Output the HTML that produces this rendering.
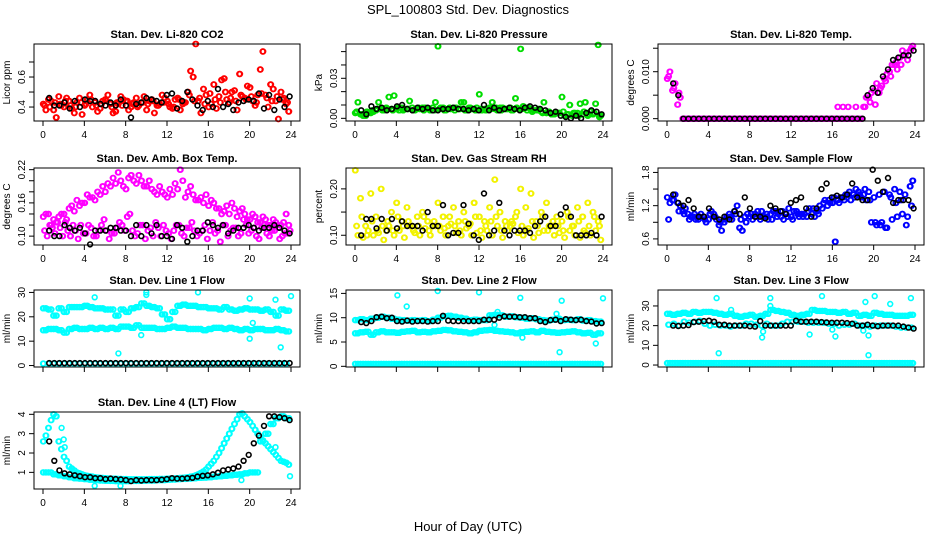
<!DOCTYPE html>
<html><head><meta charset="utf-8"><style>
html,body{margin:0;padding:0;background:#fff;width:936px;height:540px;overflow:hidden}
svg{display:block;font-family:"Liberation Sans",sans-serif}
</style></head><body>
<svg id="chart" width="936" height="540" viewBox="0 0 936 540">
<text x="468" y="14" font-size="13" text-anchor="middle">SPL_100803  Std. Dev. Diagnostics</text>
<text x="468" y="531" font-size="13" text-anchor="middle">Hour of Day (UTC)</text>
</svg>
<script>
// ===== data =====
const xTicks=[0,4,8,12,16,20,24];
const co2RedA=[0.42,0.45,0.38,0.47,0.40,0.44,0.36,0.46,0.41,0.48,0.43,0.39,0.45,0.42,0.37,0.47,0.44,0.40,0.46,0.43,0.38,0.45,0.41,0.48,0.44,0.39,0.46,0.42,0.50,0.60,0.44,0.52,0.40,0.55,0.47,0.59,0.43,0.51,0.62,0.46,0.53,0.41,0.65,0.48,0.55,0.44,0.50,0.42];
const co2RedB=[0.38,0.44,0.33,0.41,0.46,0.39,0.43,0.35,0.45,0.40,0.37,0.44,0.48,0.36,0.42,0.45,0.38,0.43,0.41,0.47,0.44,0.36,0.42,0.46,0.40,0.45,0.38,0.43,0.64,0.82,0.36,0.48,0.42,0.39,0.58,0.45,0.50,0.38,0.47,0.54,0.44,0.48,0.77,0.40,0.52,0.32,0.46,0.37];
const co2RedC=[0.41,0.40,0.43,0.42,0.44,0.41,0.40,0.43,0.42,0.45,0.41,0.42,0.44,0.40,0.43,0.41,0.44,0.42,0.40,0.43,0.42,0.44,0.41,0.43,0.42,0.40,0.45,0.43,0.48,0.44,0.46,0.42,0.49,0.45,0.43,0.50,0.46,0.44,0.48,0.45,0.47,0.43,0.49,0.46,0.44,0.47,0.45,0.43];
const co2Black=[0.46,0.41,0.41,0.43,0.39,0.44,0.40,0.45,0.44,0.44,0.42,0.41,0.43,0.41,0.45,0.41,0.33,0.42,0.43,0.46,0.45,0.44,0.43,0.48,0.49,0.39,0.44,0.50,0.45,0.41,0.38,0.44,0.40,0.52,0.40,0.42,0.38,0.43,0.44,0.45,0.44,0.49,0.39,0.48,0.38,0.45,0.40,0.47];
const presGreenA=[0.004,0.003,0.002,0.004,0.006,0.007,0.008,0.007,0.007,0.008,0.007,0.008,0.007,0.008,0.007,0.008,0.054,0.008,0.007,0.008,0.007,0.012,0.008,0.007,0.018,0.007,0.008,0.007,0.008,0.007,0.008,0.015,0.052,0.008,0.007,0.006,0.005,0.004,0.003,0.004,0.016,0.003,0.002,0.004,0.003,0.002,0.003,0.055];
const presGreenB=[0.012,0.002,0.004,0.005,0.012,0.006,0.016,0.017,0.006,0.007,0.013,0.006,0.007,0.008,0.006,0.012,0.008,0.006,0.007,0.008,0.012,0.006,0.007,0.008,0.006,0.007,0.012,0.006,0.008,0.007,0.006,0.007,0.009,0.008,0.006,0.007,0.012,0.005,0.003,0.004,0.002,0.010,0.004,0.011,0.012,0.005,0.011,0.002];
const presGreenC=[0.005,0.003,0.005,0.006,0.007,0.006,0.007,0.006,0.008,0.006,0.007,0.006,0.008,0.006,0.007,0.006,0.007,0.006,0.008,0.006,0.007,0.006,0.008,0.006,0.007,0.006,0.007,0.008,0.006,0.007,0.006,0.008,0.007,0.006,0.005,0.006,0.004,0.005,0.003,0.004,0.005,0.003,0.004,0.002,0.005,0.003,0.004,0.001];
const presBlack=[0.006,0.003,0.009,0.007,0.008,0.006,0.007,0.009,0.010,0.007,0.006,0.008,0.007,0.008,0.006,0.006,0.007,0.007,0.008,0.007,0.007,0.006,0.007,0.006,0.010,0.006,0.008,0.006,0.007,0.008,0.007,0.006,0.008,0.009,0.008,0.007,0.006,0.004,0.005,0.002,0.001,0.000,0.002,0.000,0.004,0.006,0.005,0.003];
const tempMagA=[0.0085,0.0060,0.0030,0,0,0,0,0,0,0,0,0,0,0,0,0,0,0,0,0,0,0,0,0,0,0,0,0,0,0,0,0,0,0.0025,0.0025,0.0025,0,0,0.0025,0.0045,0.0060,0.0055,0.0085,0.0100,0.0115,0.0130,0.0135,0.0145];
const tempMagB=[0.0100,0.0075,0.0045,0,0,0,0,0,0,0,0,0,0,0,0,0,0,0,0,0,0,0,0,0,0,0,0,0,0,0,0,0,0,0,0,0,0.0025,0,0.0045,0.0055,0.0075,0.0070,0.0095,0.0115,0.0105,0.0145,0.0125,0.0155];
const tempMagC=[0.0090,0.0065,0.0055,0,0,0,0,0,0,0,0,0,0,0,0,0,0,0,0,0,0,0,0,0,0,0,0,0,0,0,0,0,0,0,0,0,0,0,0.0025,0.0035,0.0030,0.0065,0.0080,0.0090,0.0120,0.0115,0.0140,0.0150];
const tempBlack=[0.0075,0.0050,0,0,0,0,0,0,0,0,0,0,0,0,0,0,0,0,0,0,0,0,0,0,0,0,0,0,0,0,0,0,0,0,0,0,0,0,0.0050,0.0065,0.0055,0.0090,0.0105,0.0125,0.0130,0.0135,0.0135,0.0145];
const boxMagA=[0.135,0.14,0.13,0.135,0.14,0.15,0.145,0.155,0.16,0.17,0.165,0.175,0.18,0.19,0.195,0.20,0.185,0.21,0.195,0.20,0.19,0.185,0.175,0.18,0.17,0.175,0.185,0.20,0.18,0.175,0.165,0.16,0.155,0.16,0.15,0.145,0.14,0.15,0.145,0.14,0.13,0.135,0.125,0.13,0.12,0.125,0.12,0.14];
const boxMagB=[0.14,0.12,0.125,0.14,0.13,0.155,0.165,0.16,0.175,0.17,0.18,0.19,0.195,0.205,0.215,0.19,0.205,0.2,0.21,0.19,0.2,0.18,0.19,0.175,0.185,0.195,0.22,0.17,0.19,0.165,0.17,0.175,0.165,0.15,0.14,0.155,0.16,0.135,0.15,0.13,0.14,0.125,0.135,0.12,0.13,0.115,0.125,0.12];
const boxMagC=[0.11,0.12,0.105,0.115,0.125,0.10,0.11,0.12,0.105,0.115,0.10,0.12,0.11,0.105,0.115,0.12,0.135,0.11,0.105,0.12,0.11,0.10,0.115,0.12,0.105,0.11,0.12,0.10,0.115,0.11,0.105,0.12,0.11,0.105,0.09,0.12,0.11,0.115,0.105,0.12,0.11,0.10,0.115,0.105,0.11,0.12,0.10,0.105];
const boxMagD=[0.10,0.115,0.125,0.10,0.11,0.12,0.095,0.105,0.12,0.10,0.11,0.13,0.095,0.105,0.125,0.11,0.14,0.10,0.12,0.095,0.115,0.125,0.10,0.11,0.095,0.12,0.105,0.115,0.125,0.10,0.11,0.095,0.125,0.11,0.12,0.10,0.115,0.10,0.13,0.105,0.115,0.095,0.12,0.10,0.11,0.095,0.105,0.11];
const boxBlack=[0.11,0.10,0.10,0.12,0.115,0.11,0.115,0.105,0.085,0.11,0.11,0.11,0.115,0.115,0.11,0.11,0.10,0.12,0.10,0.12,0.105,0.12,0.10,0.10,0.095,0.12,0.115,0.09,0.10,0.11,0.11,0.125,0.12,0.115,0.12,0.105,0.11,0.115,0.115,0.12,0.115,0.11,0.115,0.115,0.12,0.115,0.11,0.105];
const rhYelA=[0.24,0.18,0.12,0.19,0.14,0.20,0.11,0.15,0.17,0.13,0.16,0.12,0.14,0.15,0.13,0.12,0.17,0.14,0.12,0.16,0.13,0.15,0.12,0.17,0.14,0.13,0.16,0.22,0.15,0.13,0.12,0.14,0.20,0.16,0.19,0.13,0.15,0.17,0.12,0.14,0.13,0.15,0.12,0.16,0.14,0.17,0.15,0.13];
const rhYelB=[0.10,0.095,0.11,0.10,0.105,0.09,0.12,0.10,0.11,0.095,0.12,0.105,0.10,0.115,0.10,0.12,0.11,0.10,0.125,0.105,0.10,0.115,0.10,0.105,0.095,0.11,0.10,0.12,0.095,0.11,0.125,0.105,0.10,0.115,0.095,0.105,0.11,0.12,0.10,0.105,0.095,0.11,0.10,0.095,0.105,0.10,0.11,0.09];
const rhYelC=[0.12,0.14,0.10,0.13,0.11,0.12,0.13,0.11,0.14,0.12,0.13,0.11,0.12,0.14,0.11,0.13,0.12,0.115,0.14,0.12,0.11,0.13,0.125,0.14,0.11,0.12,0.13,0.14,0.11,0.12,0.13,0.15,0.12,0.11,0.13,0.12,0.14,0.11,0.13,0.12,0.11,0.14,0.12,0.13,0.11,0.12,0.14,0.12];
const rhBlack=[0.10,0.135,0.135,0.115,0.135,0.11,0.135,0.115,0.13,0.12,0.12,0.12,0.11,0.15,0.12,0.12,0.165,0.10,0.105,0.105,0.165,0.125,0.10,0.09,0.19,0.10,0.11,0.17,0.11,0.10,0.11,0.11,0.11,0.105,0.12,0.13,0.14,0.12,0.12,0.145,0.16,0.14,0.10,0.10,0.10,0.105,0.10,0.14];
const flowBlueA=[1.35,1.30,1.25,1.10,1.05,1.00,0.95,1.00,0.95,1.05,0.85,0.90,1.05,1.10,0.80,1.00,1.00,1.05,0.95,1.00,1.05,1.10,1.00,1.05,1.00,1.10,1.05,1.00,1.05,1.10,1.15,1.20,1.25,1.30,1.35,1.40,1.40,1.45,1.40,1.45,1.35,1.40,1.45,1.40,1.50,1.45,1.40,1.55];
const flowBlueB=[1.25,1.40,1.20,1.15,1.00,0.95,1.05,0.90,1.10,0.95,0.75,1.00,0.95,1.20,0.75,1.05,0.95,1.10,1.00,0.95,1.10,1.05,0.95,1.15,1.10,1.00,1.05,1.15,1.00,1.20,1.30,1.25,0.55,1.35,1.40,1.30,1.50,1.35,1.30,0.90,0.85,0.90,0.80,0.95,1.00,1.05,1.00,1.65];
const flowBlueC=[0.95,1.30,1.10,1.05,0.95,1.05,1.00,0.95,1.05,1.00,0.90,0.95,1.00,1.05,0.95,0.90,1.05,1.00,1.10,1.05,0.95,1.00,1.10,1.00,0.95,1.05,1.00,1.10,1.15,1.05,1.25,1.30,1.35,1.25,1.30,1.45,1.35,1.40,1.50,1.30,0.90,0.85,0.80,1.35,1.25,1.30,0.85,1.20];
const flowBlack=[1.40,1.25,1.20,1.30,1.15,1.00,1.00,1.15,1.00,0.95,1.00,0.95,1.10,1.05,1.35,1.15,1.00,1.00,0.97,1.20,1.15,1.10,1.05,1.25,1.30,1.35,1.15,1.00,1.15,1.50,1.60,1.35,1.38,1.35,1.40,1.60,1.35,1.30,1.30,1.85,1.65,1.45,1.70,1.25,1.30,1.30,1.30,1.15];
const l1Upper=[23.5,23,20.5,23.5,22,24,24,24,24.5,24,23.5,23.5,23,23,20.5,23,22,23.5,24,25.5,24.5,24,23.5,21,19,22,24.5,25,24.5,24.5,24,24,23.5,23.5,23,24,23,22.5,23,23.5,23,23,22.5,23,22,20.5,23,22.5];
const l1Middle=[14.5,15,15,14.5,13.5,15,15.5,15,15,15.5,15,15.5,15,15.5,15,16,16,15.5,16.5,15.5,15.5,15.5,15,15,15.5,16,15.5,15.5,15,15,15,14.5,15,15.5,15.5,15,15.5,15,14.5,15,14.5,15,15,14.5,14.5,15,14.5,14];
const l1Bottom=[0.8,0.8,0.8,0.8,0.8,0.8,0.8,0.8,0.8,0.8,0.8,0.8,0.8,0.8,0.8,0.8,0.8,0.8,0.8,0.8,0.8,0.8,0.8,0.8,0.8,0.8,0.8,0.8,0.8,0.8,0.8,0.8,0.8,0.8,0.8,0.8,0.8,0.8,0.8,0.8,0.8,0.8,0.8,0.8,0.8,0.8,0.8,0.8];
const l1OutHour=[5,10,10,15,20,22.5,24,9.5,7.3,20,23,20.3];
const l1OutVal=[28,30,29,30,27.5,27,28.5,12.5,5,11,7.5,17.5];
const l1Black=[1,1,1,1,1,1,1,1,1,1,1,1,1,1,1,1,1,1,1,1,1,1,1,1,1,1,1,1,1,1,1,1,1,1,1,1,1,1,1,1,1,1,1,1,1,1,1,1];
const l2Top=[9.5,9.7,9.5,9.8,10,10.2,10,9.8,9.6,9.5,9.4,9.5,9.4,9.5,9.3,9.6,10,10.3,10.4,10.2,10,9.8,9.5,9.6,9.5,9.5,10.5,10.6,10.5,10.2,10.3,10.1,10,9.8,9.9,9.7,9.5,9.4,9.6,9.8,9.5,9.6,9.5,9.7,9.4,9.5,9.3,9.2];
const l2Middle=[6.8,7,7.1,6.5,7,7.2,7,7,6.9,7.1,7.2,7.3,7,7.1,7,7.2,7.3,7.5,7.4,7.2,7.1,7,6.8,7,7.3,7.4,7.5,7.3,7.2,7.1,7,6.8,7,7.1,7.2,7,7.3,7.1,7,6.9,7,7.1,7.2,7,6.8,6.9,6.5,6.8];
const l2Bottom=[0.5,0.5,0.5,0.5,0.5,0.5,0.5,0.5,0.5,0.5,0.5,0.5,0.5,0.5,0.5,0.5,0.5,0.5,0.5,0.5,0.5,0.5,0.5,0.5,0.5,0.5,0.5,0.5,0.5,0.5,0.5,0.5,0.5,0.5,0.5,0.5,0.5,0.5,0.5,0.5,0.5,0.5,0.5,0.5,0.5,0.5,0.5,0.5];
const l2OutHour=[4.1,5,8,12,16,20,24,19.5,19.8,16.2,23.3,13.8,13.5];
const l2OutVal=[14.6,12.3,15.5,15.2,14.1,13.5,14,10.8,2.9,5.9,4.7,11.2,8.5];
const l2Black=[9.1,8.9,9.3,10.1,10.2,9.9,10.0,9.3,9.2,9.4,9.2,9.3,9.3,9.2,9.3,9.3,10.4,9.4,9.3,9.3,9.3,9.3,9.3,9.3,9.6,9.6,9.6,10,10.3,10.2,10.2,10.1,10.1,9.9,9.9,9.3,9.1,9.5,9.6,9.3,9.7,9.6,9.5,9.6,9.3,9.2,8.8,8.9];
const l3Top=[26,25.5,26,26.5,26,27,26.5,27,27,26.5,26,25.5,26,25,24.5,25,25.5,24.5,25,26,28,27.5,27,26.5,25.5,25,25.5,26,28,27.5,27.5,27,27,26.5,27,26,26.5,25,25.5,25,26.5,26,25.5,25.5,25,25,25,25.5];
const l3Middle=[20.5,21,20,22,21.5,22,22.5,21,20,20.5,20,20,19.5,20,20,21,21,20.5,20,21,20,20,21,22,22,22,22,21.5,21.5,21.5,21.5,21,21,20,20.5,20.5,21,20,20,19.5,20,20,20,20,19.5,19,19,19];
const l3Bottom=[1,1,1,1,1,1,1,1,1,1,1,1,1,1,1,1,1,1,1,1,1,1,1,1,1,1,1,1,1,1,1,1,1,1,1,1,1,1,1,1,1,1,1,1,1,1,1,1];
const l3OutHour=[10,20.1,19.2,21.6,4.8,10,15,6.2,5,9.2,9.3,13.8,16.3,16,19.5,19.5,23.6,19];
const l3OutVal=[34,35,32,31,34,30,35,28,6,14,17,15.5,14.5,18,15,5,34,17.5];
const l3Black=[20,19.8,20,20.3,21.8,22,22.3,22.5,22,20.5,20.5,20,20,20,20,19.7,19.5,22.3,20,20,20,20,20,20,22.5,22,22,22,22,21.8,21.6,21.5,21.5,21.5,21.3,21,20,20,20.5,20,19.7,20,20,20,20,19.5,19,18.5];
const l4CurveA=[2.6,3.3,4.0,2.6,1.8,1.3,1.1,0.95,0.85,0.8,0.75,0.72,0.7,0.68,0.67,0.66,0.65,0.64,0.64,0.64,0.64,0.65,0.65,0.66,0.67,0.68,0.7,0.72,0.75,0.8,0.9,1.05,1.3,1.6,2.0,2.5,3.0,3.5,4.0,3.9,3.6,3.2,2.8,2.5,2.2,1.9,1.6,1.5];
const l4CurveA2=[2.9,3.7,3.9,2.2,1.6,1.2,1.0,0.9,0.82,0.78,0.73,0.71,0.69,0.67,0.66,0.65,0.64,0.64,0.64,0.64,0.65,0.65,0.66,0.66,0.68,0.69,0.71,0.73,0.78,0.85,0.97,1.15,1.45,1.8,2.25,2.75,3.25,3.75,4.05,3.75,3.4,3.0,2.65,2.35,2.05,1.75,1.55,1.4];
const l4CurveB=[1.0,1.0,0.9,0.85,0.8,0.75,0.7,0.68,0.65,0.62,0.6,0.58,0.57,0.56,0.55,0.55,0.55,0.56,0.56,0.57,0.58,0.58,0.6,0.6,0.62,0.63,0.65,0.66,0.68,0.7,0.72,0.73,0.75,0.78,0.8,0.82,0.85,0.88,0.9,0.95,1.0,1.0,2.6,3.0,3.5,3.8,3.9,3.8];
const l4OutHour=[1.8,2.0,2.1,23.9,22.5,19.2,5,7.5];
const l4OutVal=[3.3,2.7,2.3,0.8,2.3,0.6,0.3,0.3];
const l4Black=[2.6,1.6,1.1,0.95,0.9,0.85,0.8,0.75,0.75,0.7,0.7,0.65,0.68,0.65,0.63,0.6,0.55,0.6,0.58,0.6,0.6,0.6,0.62,0.65,0.7,0.68,0.68,0.7,0.72,0.78,0.82,0.85,0.9,0.98,1.1,1.15,1.2,1.3,1.6,1.9,2.5,2.9,3.4,3.9,3.9,3.85,3.8,3.7];

// ===== rendering =====
const NS="http://www.w3.org/2000/svg";
const svg=document.getElementById('chart');
function mk(tag,attrs,parent){const e=document.createElementNS(NS,tag);for(const k in attrs)e.setAttribute(k,attrs[k]);(parent||svg).appendChild(e);return e;}
const RED="#ff0000",GRN="#00dd00",MAG="#ff00ff",YEL="#f2f200",BLU="#0000ff",CYN="#00ffff",BLK="#000000";
const colLeft=[34,346,658],rowTop=[44,168,290,412],W=266,H=77;
const panels=[
 {r:0,c:0,title:"Stan. Dev. Li-820 CO2",yl:"Licor ppm",ymin:0.307,ymax:0.82,ticks:[0.4,0.5,0.6,0.7],labels:[[0.4,"0.4"],[0.6,"0.6"]],xl:true,
  series:[[co2RedA,0,RED],[co2RedB,0.25,RED],[co2RedC,0.125,RED]],black:co2Black},
 {r:0,c:1,title:"Stan. Dev. Li-820 Pressure",yl:"kPa",ymin:-0.002,ymax:0.0557,ticks:[0,0.01,0.02,0.03,0.04,0.05],labels:[[0,"0.00"],[0.03,"0.03"]],xl:true,
  series:[[presGreenA,0,GRN],[presGreenB,0.25,GRN],[presGreenC,0.125,GRN]],black:presBlack},
 {r:0,c:2,title:"Stan. Dev. Li-820 Temp.",yl:"degrees C",ymin:-0.0005,ymax:0.0159,ticks:[0,0.005,0.01,0.015],labels:[[0,"0.000"],[0.01,"0.010"]],xl:true,
  series:[[tempMagA,0,MAG],[tempMagB,0.25,MAG],[tempMagC,0.125,MAG]],black:tempBlack},
 {r:1,c:0,title:"Stan. Dev. Amb. Box Temp.",yl:"degrees C",ymin:0.084,ymax:0.223,ticks:[0.10,0.12,0.14,0.16,0.18,0.20,0.22],labels:[[0.10,"0.10"],[0.16,"0.16"],[0.22,"0.22"]],xl:true,
  series:[[boxMagA,0,MAG],[boxMagB,0.25,MAG],[boxMagC,0.125,MAG],[boxMagD,0.375,MAG]],black:boxBlack},
 {r:1,c:1,title:"Stan. Dev. Gas Stream RH",yl:"percent",ymin:0.079,ymax:0.245,ticks:[0.10,0.15,0.20],labels:[[0.10,"0.10"],[0.20,"0.20"]],xl:true,
  series:[[rhYelA,0,YEL],[rhYelB,0.25,YEL],[rhYelC,0.125,YEL]],black:rhBlack},
 {r:1,c:2,title:"Stan. Dev. Sample Flow",yl:"ml/min",ymin:0.49,ymax:1.88,ticks:[0.6,0.9,1.2,1.5,1.8],labels:[[0.6,"0.6"],[1.2,"1.2"],[1.8,"1.8"]],xl:true,
  series:[[flowBlueA,0,BLU],[flowBlueB,0.25,BLU],[flowBlueC,0.125,BLU]],black:flowBlack},
 {r:2,c:0,title:"Stan. Dev. Line 1 Flow",yl:"ml/min",ymin:-0.6,ymax:31,ticks:[0,10,20,30],labels:[[0,"0"],[10,"10"],[20,"20"],[30,"30"]],xl:false,
  series:[[l1Upper,0,CYN],[l1Upper,0.25,CYN],[l1Middle,0,CYN],[l1Middle,0.25,CYN],[l1Bottom,0,CYN]],out:[l1OutHour,l1OutVal,CYN],black:l1Black},
 {r:2,c:1,title:"Stan. Dev. Line 2 Flow",yl:"ml/min",ymin:-0.14,ymax:15.7,ticks:[0,5,10,15],labels:[[0,"0"],[5,"5"],[10,"10"],[15,"15"]],xl:false,
  series:[[l2Top,0,CYN],[l2Top,0.25,CYN],[l2Middle,0,CYN],[l2Middle,0.25,CYN],[l2Bottom,0,CYN],[l2Bottom,0.25,CYN]],out:[l2OutHour,l2OutVal,CYN],black:l2Black},
 {r:2,c:2,title:"Stan. Dev. Line 3 Flow",yl:"ml/min",ymin:-1.0,ymax:38.1,ticks:[0,10,20,30],labels:[[0,"0"],[10,"10"],[20,"20"],[30,"30"]],xl:false,
  series:[[l3Top,0,CYN],[l3Top,0.25,CYN],[l3Middle,0.125,CYN],[l3Bottom,0,CYN],[l3Bottom,0.25,CYN]],out:[l3OutHour,l3OutVal,CYN],black:l3Black},
 {r:3,c:0,title:"Stan. Dev. Line 4 (LT) Flow",yl:"ml/min",ymin:0.14,ymax:4.12,ticks:[1,2,3,4],labels:[[1,"1"],[2,"2"],[3,"3"],[4,"4"]],xl:true,
  series:[[l4CurveA,0,CYN],[l4CurveA2,0.25,CYN],[l4CurveB,0,CYN],[l4CurveB,0.25,CYN]],out:[l4OutHour,l4OutVal,CYN],black:l4Black}
];
panels.forEach((p,pi)=>{
  const L=colLeft[p.c],T=rowTop[p.r];
  const g=mk('g',{});
  
  
  const xs=h=>L+9+h*(W-18)/24;
  const ys=v=>T+H-(v-p.ymin)/(p.ymax-p.ymin)*H;
  const t=mk('text',{x:L+W/2,y:T-6,'font-size':11,'font-weight':'bold','text-anchor':'middle'},g);t.textContent=p.title;
  
  
  const yt=mk('text',{transform:`translate(${L-24},${T+H/2}) rotate(-90)`,'font-size':10,'text-anchor':'middle'},g);yt.textContent=p.yl;
  
  
  const marks=mk('g',{fill:'none','stroke-width':1.6},g);
  
  
  function dot(h,v,col){if(v<p.ymin||v>p.ymax)return;const c=mk('circle',{cx:xs(h).toFixed(1),cy:ys(v).toFixed(1),r:2.4,stroke:col},marks);
    
    }
  p.series.forEach(s=>{s[0].forEach((v,i)=>{dot(i*0.5+s[1],v,s[2]);dot(i*0.5+s[1]+0.0625,v,s[2]);});});
  if(p.out)p.out[0].forEach((h,i)=>dot(h,p.out[1][i],p.out[2]));
  p.black.forEach((v,i)=>dot(0.6+i*0.495,v,BLK));
  const box=mk('rect',{x:L,y:T,width:W,height:H,fill:'none',stroke:'#000','stroke-width':1},g);
  
  
  xTicks.forEach(h=>{const x=xs(h);
    const tk=mk('line',{x1:x,y1:T+H,x2:x,y2:T+H+5,stroke:'#000'},g);
    
    
    if(p.xl){const tl=mk('text',{x:x,y:T+H+17,'font-size':10,'text-anchor':'middle'},g);tl.textContent=h;
      
      }
  });
  p.ticks.forEach(v=>{const y=ys(v);
    const tk=mk('line',{x1:L-5,y1:y,x2:L,y2:y,stroke:'#000'},g);
    
    });
  p.labels.forEach(lb=>{const y=ys(lb[0]);
    const tl=mk('text',{transform:`translate(${L-9},${y}) rotate(-90)`,'font-size':10,'text-anchor':'middle'},g);tl.textContent=lb[1];
    
    });
});
</script>
</body></html>
